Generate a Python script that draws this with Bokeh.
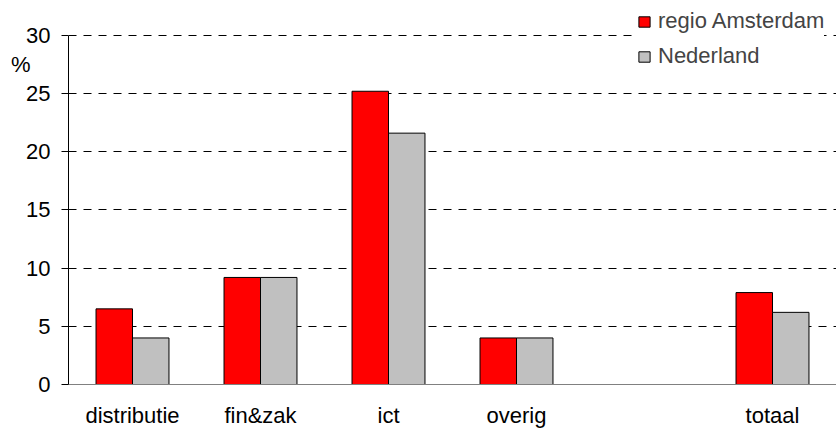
from bokeh.plotting import figure
from bokeh.models import (FactorRange, Range1d, Legend, LegendItem, LinearAxis,
                          FixedTicker, ColumnDataSource, CustomJSTickFormatter)
from bokeh.transform import dodge
from bokeh.embed import file_html
from bokeh.resources import INLINE

categories = ["distributie", "fin&zak", "ict", "overig", " ", "totaal"]
bar_categories = ["distributie", "fin&zak", "ict", "overig", "totaal"]
amsterdam = [6.5, 9.2, 25.2, 4.0, 7.9]
nederland = [4.0, 9.2, 21.6, 4.0, 6.2]
series_names = ["regio Amsterdam", "Nederland"]
series_colors = ["#FF0000", "#C0C0C0"]
y_ticks = [0, 5, 10, 15, 20, 25, 30]
y_axis_max = 30
unit_label = "%"
unit_label_pos = [27.5]

FONT = "Liberation Sans"
FS = "22px"

src = ColumnDataSource(dict(cat=bar_categories, ams=amsterdam, ned=nederland))

# frame reaches the top of the canvas; the axis itself stops at 30
p = figure(x_range=FactorRange(factors=categories, range_padding=0),
           y_range=Range1d(0, 33.0), width=836, height=430,
           output_backend="svg", toolbar_location=None,
           min_border_left=68, min_border_right=0,
           min_border_top=0, min_border_bottom=45)
p.outline_line_color = None
p.background_fill_color = "white"

bw = 0.285
r1 = p.vbar(x=dodge("cat", -bw / 2, range=p.x_range), top="ams", width=bw,
            bottom=0, source=src, fill_color=series_colors[0],
            line_color="black", line_width=1)
r2 = p.vbar(x=dodge("cat", bw / 2, range=p.x_range), top="ned", width=bw,
            bottom=0, source=src, fill_color=series_colors[1],
            line_color="black", line_width=1)

# main y axis
p.yaxis.ticker = FixedTicker(ticks=y_ticks)
p.yaxis.bounds = (0, y_axis_max)
p.yaxis.axis_line_color = "black"
p.yaxis.major_tick_line_color = "black"
p.yaxis.major_tick_out = 7
p.yaxis.major_tick_in = 0
p.yaxis.minor_tick_line_color = None
p.yaxis.major_label_standoff = 11
p.yaxis.major_label_text_font = FONT
p.yaxis.major_label_text_font_size = FS
p.yaxis.major_label_text_color = "black"

# unit label as an extra, invisible axis
unit_axis = LinearAxis(ticker=FixedTicker(ticks=unit_label_pos),
                       formatter=CustomJSTickFormatter(code="return '%s'" % unit_label),
                       axis_line_color=None, major_tick_line_color=None,
                       minor_tick_line_color=None, major_tick_out=0,
                       major_tick_in=0, major_label_standoff=-7,
                       major_label_text_font=FONT,
                       major_label_text_font_size=FS,
                       major_label_text_color="black")
p.add_layout(unit_axis, "left")

p.xaxis.axis_line_color = "#808080"
p.xaxis.major_tick_line_color = None
p.xaxis.minor_tick_line_color = None
p.xaxis.major_label_standoff = 12
p.xaxis.major_label_text_font = FONT
p.xaxis.major_label_text_font_size = FS
p.xaxis.major_label_text_color = "black"

p.xgrid.visible = False
p.ygrid.grid_line_color = "black"
p.ygrid.grid_line_dash = "8 7"
p.ygrid.grid_line_width = 1

legend = Legend(items=[LegendItem(label=series_names[0], renderers=[r1]),
                       LegendItem(label=series_names[1], renderers=[r2])],
                location=(569, 315), label_text_font=FONT,
                label_text_font_size=FS, glyph_width=14, glyph_height=13,
                label_standoff=7, spacing=9, label_height=22, padding=5,
                margin=0, border_line_color=None, background_fill_color="white",
                background_fill_alpha=1)
p.add_layout(legend)

open("out.html", "w").write(file_html(p, INLINE))
